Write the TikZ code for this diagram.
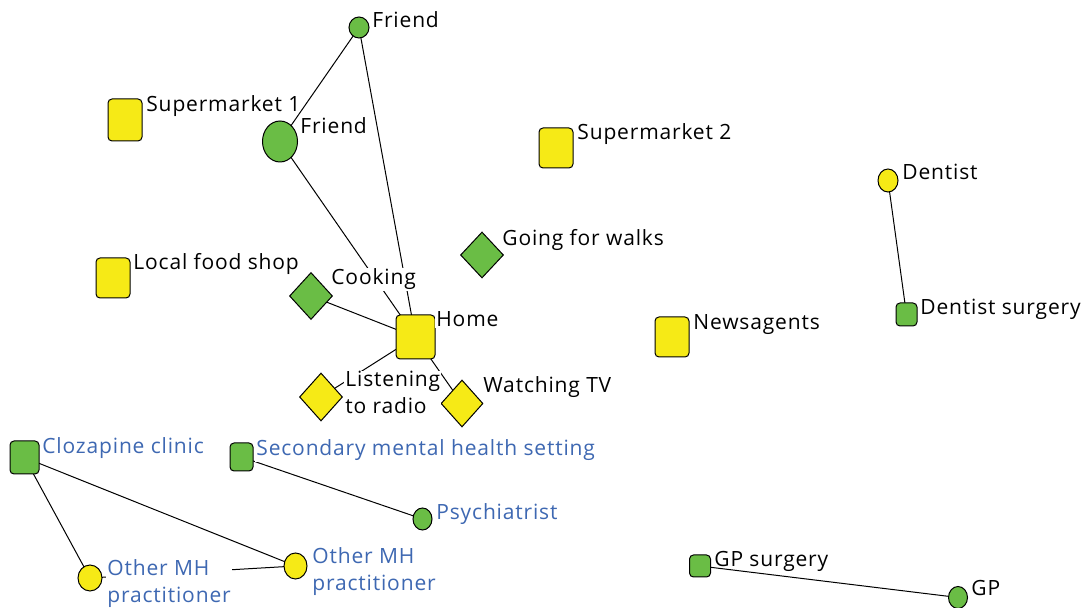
\documentclass[tikz,border=0pt]{standalone}
\usepackage{fontspec}
\setmainfont[LetterSpace=4]{Open Sans}
\usetikzlibrary{shapes.geometric}
\pgfdeclarelayer{background}
\pgfsetlayers{background,main}
\definecolor{netgreen}{RGB}{106,189,69}
\definecolor{netyellow}{RGB}{246,234,22}
\definecolor{netblue}{RGB}{62,104,178}
\tikzset{
  place/.style={draw, rectangle, rounded corners=2pt, fill=netyellow, line width=0.5pt, inner sep=0pt},
  act/.style={draw, diamond, fill=netyellow, line width=0.5pt, inner sep=0pt},
  person/.style={draw, ellipse, fill=netyellow, line width=0.5pt, inner sep=0pt},
  tag/.style={fill=white, inner sep=0.5pt, anchor=base west, align=left, font=\fontsize{10.5}{13.5}\selectfont},
  bluetag/.style={tag, text=netblue},
  link/.style={line width=0.5pt}
}

\begin{document}
\begin{tikzpicture}[x=0.5pt, y=-0.5pt]
        \useasboundingbox (0,0) rectangle (1082,608);

        % places
        \node[place, minimum width=17pt, minimum height=21pt] (super1) at (125,120) {};
        \node[place, minimum width=17pt, minimum height=20pt] (super2) at (556,148) {};
        \node[place, minimum width=17pt, minimum height=20pt] (foodshop) at (113,278) {};
        \node[place, minimum width=19.5pt, minimum height=22pt] (home) at (415.5,337) {};
        \node[place, minimum width=17pt, minimum height=20pt] (news) at (672,337) {};
        \node[place, fill=netgreen, minimum width=10.5pt, minimum height=11.5pt] (dentsurg) at (906.5,314.5) {};
        \node[place, fill=netgreen, minimum width=14.5pt, minimum height=16.5pt] (clinic) at (24.5,457.5) {};
        \node[place, fill=netgreen, minimum width=11.5pt, minimum height=14pt] (secondary) at (241.5,457) {};
        \node[place, fill=netgreen, minimum width=10.5pt, minimum height=11pt] (gpsurg) at (700,566) {};

        % activities
        \node[act, fill=netgreen, minimum width=21.5pt, minimum height=23.5pt] (cooking) at (311,296) {};
        \node[act, fill=netgreen, minimum width=21.5pt, minimum height=23pt] (walks) at (482,255) {};
        \node[act, minimum width=21.5pt, minimum height=24pt] (radio) at (321,397) {};
        \node[act, minimum width=21pt, minimum height=23.5pt] (tv) at (462,403.5) {};

        % people
        \node[person, fill=netgreen, minimum width=10pt, minimum height=10.5pt] (friendA) at (359,27.5) {};
        \node[person, fill=netgreen, minimum width=17.5pt, minimum height=20.5pt] (friendB) at (280,141.5) {};
        \node[person, minimum width=10pt, minimum height=11.5pt] (dentist) at (888,180.5) {};
        \node[person, fill=netgreen, minimum width=9.5pt, minimum height=11pt] (psych) at (422.5,519) {};
        \node[person, minimum width=12pt, minimum height=13pt] (mhA) at (90,578) {};
        \node[person, minimum width=11.5pt, minimum height=13pt] (mhB) at (295.5,566) {};
        \node[person, fill=netgreen, minimum width=9.5pt, minimum height=11pt] (gp) at (958,597.5) {};

        % labels
        \node[tag] (friendA-t) at (371,28) {Friend};
        \node[tag] (friendB-t) at (299,134) {Friend};
        \node[tag, fill=none] (super1-t) at (145,112) {Supermarket 1};
        \node[tag] (super2-t) at (576,140) {Supermarket 2};
        \node[tag] (foodshop-t) at (132,270) {Local food shop};
        \node[tag] (walks-t) at (501,246) {Going for walks};
        \node[tag] (cooking-t) at (330,285) {Cooking};
        \node[tag] (home-t) at (435,327) {Home};
        \node[tag] (news-t) at (692,330) {Newsagents};
        \node[tag] (radio-t) at (344,414) {Listening\\to radio};
        \node[tag] (tv-t) at (482,393) {Watching TV};
        \node[tag] (dentist-t) at (901,180) {Dentist};
        \node[tag] (dentsurg-t) at (919,315) {Dentist surgery};
        \node[bluetag] (clinic-t) at (41,454) {Clozapine clinic};
        \node[bluetag] (secondary-t) at (255,456) {Secondary mental health setting};
        \node[bluetag] (psych-t) at (435,520) {Psychiatrist};
        \node[bluetag] (mhA-t) at (106,603) {Other MH\\practitioner};
        \node[bluetag] (mhB-t) at (311,591) {Other MH\\practitioner};
        \node[tag, fill=none] (gpsurg-t) at (713,567) {GP surgery};
        \node[tag] (gp-t) at (970,596) {GP};

        % ties
        \begin{pgfonlayer}{background}
        \draw[link] (friendA.center) -- (friendB.center);
        \draw[link] (friendA.center) -- (home.center);
        \draw[link] (friendB.center) -- (home.center);
        \draw[link] (cooking.center) -- (home.center);
        \draw[link] (radio.center) -- (home.center);
        \draw[link] (tv.center) -- (home.center);
        \draw[link] (dentist.center) -- (dentsurg.center);
        \draw[link] (clinic.center) -- (mhA.center);
        \draw[link] (clinic.center) -- (mhB.center);
        \draw[link] (mhA.center) -- (mhB.center);
        \draw[link] (secondary.center) -- (psych.center);
        \draw[link] (gpsurg.center) -- (gp.center);
        \end{pgfonlayer}
\end{tikzpicture}
\end{document}
